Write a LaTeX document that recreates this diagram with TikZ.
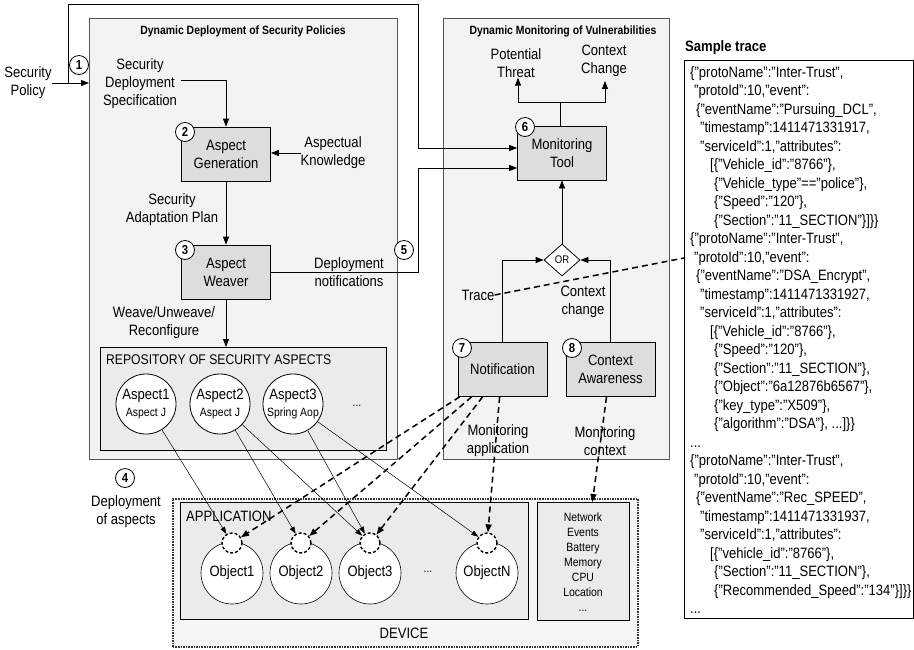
\documentclass[tikz,border=0pt]{standalone}
\usepackage{fontspec}
\setmainfont{Liberation Sans}[FakeStretch=0.87]
\usetikzlibrary{arrows.meta,shapes.geometric,calc}
\definecolor{boxbg}{HTML}{F3F3F3}
\definecolor{procbg}{HTML}{DDDDDD}
\definecolor{repobg}{HTML}{EBEBEB}
\definecolor{devbg}{HTML}{F5F5F5}
\definecolor{edge}{HTML}{555555}
\begin{document}
\begin{tikzpicture}[x=1pt,y=-1pt,
  every node/.style={font=\fontsize{15}{18}\selectfont, inner sep=0pt},
  bigbox/.style={draw=edge, fill=boxbg, line width=0.8pt, anchor=north west},
  proc/.style={draw=black, fill=procbg, line width=0.8pt, minimum width=89pt, minimum height=54pt, align=center},
  num/.style={circle, draw=black, fill=white, line width=0.8pt, minimum size=19pt, inner sep=0pt, font=\fontsize{13}{13}\selectfont\bfseries},
  lbl/.style={align=center},
  ttl/.style={font=\fontsize{12}{14}\selectfont\bfseries},
  arr/.style={-{Triangle[length=8pt,width=6pt]}, line width=0.8pt},
  thinarr/.style={-{Triangle[length=7pt,width=5pt]}, line width=0.5pt},
  dsh/.style={line width=1.5pt, dash pattern=on 6pt off 4pt},
  dasharr/.style={dsh, -{Triangle[length=8pt,width=6pt]}},
  objc/.style={circle, draw=black, fill=white, minimum size=62pt, line width=0.6pt},
  aspc/.style={circle, draw=black, fill=white, minimum size=60pt, align=center, line width=0.8pt},
  smallc/.style={circle, draw=black, fill=white, dash pattern=on 3pt off 2pt, line width=1.4pt, minimum size=20pt}
]
\useasboundingbox (0,0) rectangle (914,649);
\fill[white] (0,0) rectangle (914,649);

% big boxes
\node[bigbox, minimum width=308pt, minimum height=441pt] (dep) at (89,18) {};
\node[bigbox, minimum width=226pt, minimum height=441pt] (mon) at (443,18) {};
\node[ttl] (t1) at (243,31) {Dynamic Deployment of Security Policies};
\node[ttl] (t2) at (563,31) {Dynamic Monitoring of Vulnerabilities};

% left part
\node[lbl] (sp) at (28,83) {Security\\Policy};
\node[lbl] (sds) at (140,84) {Security\\Deployment\\Specification};
\node[proc] (ag) at (226,154) {Aspect\\Generation};
\node[lbl] (ak) at (333,153) {Aspectual\\Knowledge};
\node[lbl] (sap) at (172,210) {Security\\Adaptation Plan};
\node[proc] (aw) at (226,272) {Aspect\\Weaver};
\node[lbl] (dn) at (349,272) {Deployment\\notifications};
\node[lbl] (wur) at (164,323) {Weave/Unweave/\\Reconfigure};
\node[draw=black, fill=repobg, line width=0.8pt, anchor=north west, minimum width=286pt, minimum height=103pt] (repo) at (100,347) {};
\node[anchor=west, font=\fontsize{14}{16}\selectfont] (rt) at (106,360) {REPOSITORY OF SECURITY ASPECTS};
\node[aspc] (a1) at (146,404) {Aspect1\\[-1pt]{\fontsize{12}{14}\selectfont Aspect J}};
\node[aspc] (a2) at (220,404) {Aspect2\\[-1pt]{\fontsize{12}{14}\selectfont Aspect J}};
\node[aspc] (a3) at (293,404) {Aspect3\\[-1pt]{\fontsize{12}{14}\selectfont Spring Aop}};
\node[font=\fontsize{12}{14}\selectfont] (adots) at (357,406) {...};
\node[lbl] (doa) at (126,512) {Deployment\\of aspects};

% device
\node[draw=black!80, fill=devbg, densely dotted, line width=1.6pt, anchor=north west, minimum width=465pt, minimum height=148pt] (dev) at (172,498) {};
\node[draw=black, fill=repobg, line width=0.8pt, anchor=north west, minimum width=348pt, minimum height=117pt] (app) at (180,502) {};
\node[draw=black, fill=repobg, line width=0.8pt, anchor=north west, minimum width=92pt, minimum height=118pt] (ctx) at (537,502) {};
\node[font=\fontsize{12}{15}\selectfont, align=center] (ctxt) at (583,562) {Network\\Events\\Battery\\Memory\\CPU\\Location\\...};
\node[anchor=west] (appl) at (186,516) {APPLICATION};
\node (devl) at (404,633) {DEVICE};
\node[objc] (o1) at (232,573) {Object1};
\node[objc] (o2) at (301,573) {Object2};
\node[objc] (o3) at (370,573) {Object3};
\node[font=\fontsize{12}{14}\selectfont] (odots) at (428,572) {...};
\node[objc] (oN) at (487,573) {ObjectN};
\node[smallc] (s1) at (232,543) {};
\node[smallc] (s2) at (301,543) {};
\node[smallc] (s3) at (370,543) {};
\node[smallc] (sN) at (487,543) {};

% monitoring part
\node[proc] (mt) at (562,153) {Monitoring\\Tool};
\node[lbl] (pt) at (516,63) {Potential\\Threat};
\node[lbl] (cc) at (604,61) {Context\\Change};
\node[diamond, draw=black, fill=white, line width=0.8pt, minimum width=36pt, minimum height=32pt, inner sep=0pt, font=\fontsize{11}{11}\selectfont] (or) at (562,260) {OR};
\node[proc] (nt) at (502.5,369.5) {Notification};
\node[proc] (ca) at (610.5,369.5) {Context\\Awareness};
\node[lbl] (tr) at (478,295) {Trace};
\node[lbl] (cch) at (583,302) {Context\\change};
\node[lbl] (ma) at (498,441) {Monitoring\\application};
\node[lbl] (mc) at (605,441) {Monitoring\\context};

% sample trace
\node[anchor=west, font=\fontsize{15}{18}\selectfont\bfseries] (st) at (685,48) {Sample trace};
\node[draw=black, fill=white, line width=0.8pt, anchor=north west, minimum width=229pt, minimum height=558pt] (tbox) at (684,60) {};
\node[anchor=north west, align=left, font=\fontsize{15}{18.5}\selectfont] (tt) at (690,66) {%
\{"protoName":"Inter-Trust",\\
\hspace*{4pt}"protoId":10,"event":\\
\hspace*{6pt}\{"eventName":"Pursuing\_DCL",\\
\hspace*{10pt}"timestamp":1411471331917,\\
\hspace*{10pt}"serviceId":1,"attributes":\\
\hspace*{20pt}[\{"Vehicle\_id":"8766"\},\\
\hspace*{24pt}\{"Vehicle\_type"=="police"\},\\
\hspace*{24pt}\{"Speed":"120"\},\\
\hspace*{24pt}\{"Section":"11\_SECTION"\}]\}\}\\
\{"protoName":"Inter-Trust",\\
\hspace*{4pt}"protoId":10,"event":\\
\hspace*{6pt}\{"eventName":"DSA\_Encrypt",\\
\hspace*{10pt}"timestamp":1411471331927,\\
\hspace*{10pt}"serviceId":1,"attributes":\\
\hspace*{20pt}[\{"Vehicle\_id":"8766"\},\\
\hspace*{24pt}\{"Speed":"120"\},\\
\hspace*{24pt}\{"Section":"11\_SECTION"\},\\
\hspace*{24pt}\{"Object":"6a12876b6567"\},\\
\hspace*{24pt}\{"key\_type":"X509"\},\\
\hspace*{24pt}\{"algorithm":"DSA"\}, ...]\}\}\\
...\\
\{"protoName":"Inter-Trust",\\
\hspace*{4pt}"protoId":10,"event":\\
\hspace*{6pt}\{"eventName":"Rec\_SPEED",\\
\hspace*{10pt}"timestamp":1411471331937,\\
\hspace*{10pt}"serviceId":1,"attributes":\\
\hspace*{20pt}[\{"vehicle\_id":"8766"\},\\
\hspace*{24pt}\{"Section":"11\_SECTION"\},\\
\hspace*{24pt}\{"Recommended\_Speed":"134"\}]\}\}\\
...};

% connectors left
\coordinate (j1) at (68,83);
\coordinate (c1) at (68,4);
\coordinate (c2) at (418,4);
\coordinate (c3) at (418,272);
\draw[arr] (sp.east |- j1) -- (dep.west |- j1);
\draw[arr] (j1) -- (c1) -- (c2) |- ($(mt.west)+(0,-5)$);
\draw[arr] (aw.east) -- (c3) |- ($(mt.west)+(0,15)$);
\draw[arr] ($(sds.east)+(4,-4)$) -| (ag.north);
\draw[arr] (ak.west) -- (ag.east |- ak.west);
\draw[arr] (ag.south) -- (aw.north);
\draw[arr] (aw.south) -- (aw.south |- repo.north);

% aspects to objects
\draw[thinarr] (a1) -- (s1);
\draw[thinarr] (a2) -- (s2);
\draw[thinarr] (a2) -- (s3);
\draw[thinarr] (a3) -- (s3);
\draw[thinarr] (a3) -- (sN);

% monitoring connectors
\coordinate (b0) at ($(mt.north)+(-2,-23)$);
\draw[line width=0.8pt] (mt.north -| b0) -- (b0);
\draw[arr] (b0) -| ($(pt.south)+(2,0)$);
\draw[arr] (b0) -| ($(cc.south)+(1,4)$);
\draw[arr] (or.north) -- (mt.south);
\draw[arr] (nt.north) |- (or.west);
\draw[arr] (ca.north) |- (or.east);
\draw[dsh] (tr.east) -- ($(tbox.north west)+(0,198)$);

% dashed monitoring arrows
\draw[dasharr] ($(nt.south west)+(2,0)$) -- (s1);
\draw[dasharr] ($(nt.south west)+(14,0)$) -- (s2);
\draw[dasharr] ($(nt.south west)+(25,0)$) -- (s3);
\draw[dasharr] ($(nt.south west)+(42,0)$) -- (sN);
\draw[dasharr] ($(ca.south)+(-4,0)$) -- ($(ctx.north)+(9,0)$);

% number circles
\node[num] (n1) at (79,65) {1};
\node[num] (n2) at (185,132) {2};
\node[num] (n3) at (185,250) {3};
\node[num] (n4) at (125,478) {4};
\node[num] (n5) at (404,250) {5};
\node[num] (n6) at (525,127) {6};
\node[num] (n7) at (462,348) {7};
\node[num] (n8) at (572,348) {8};
\end{tikzpicture}
\end{document}
